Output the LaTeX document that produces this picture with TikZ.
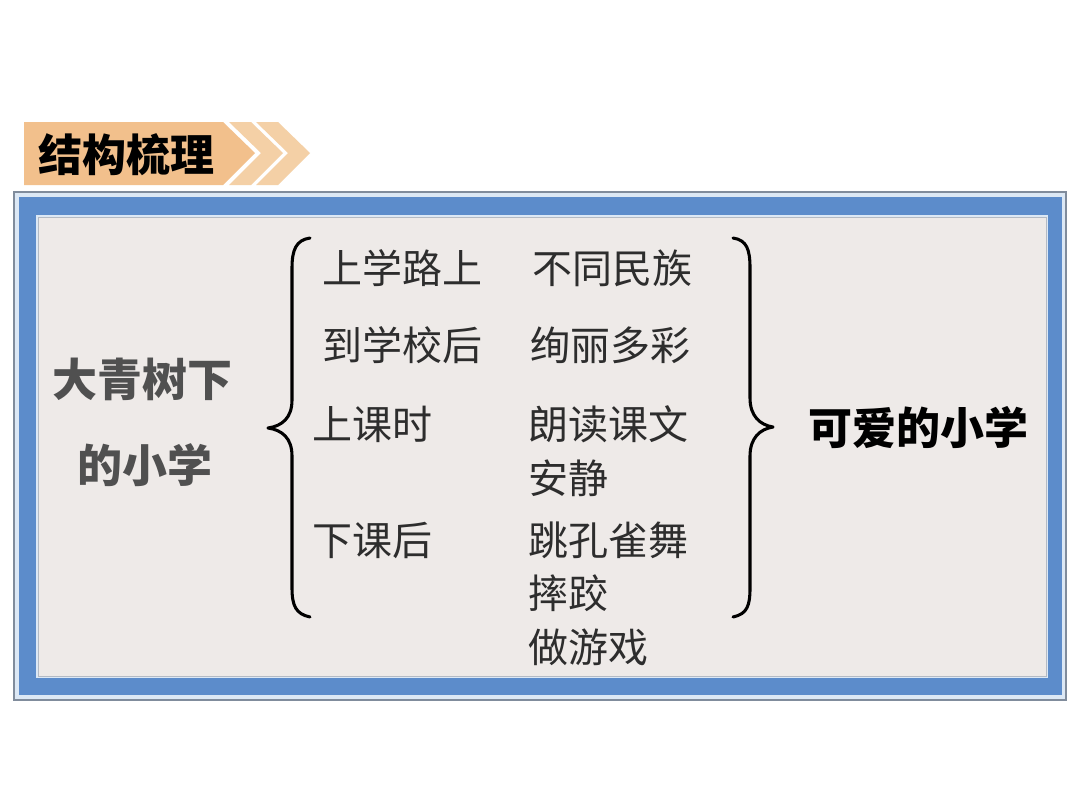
\documentclass[tikz,border=0pt]{standalone}
\usepackage{fontspec}
\usepackage{xcolor}
\newfontfamily\cjk{Noto Sans CJK SC}

\definecolor{bannerorange}{RGB}{242,192,140}
\definecolor{chevronorange}{RGB}{244,208,166}
\definecolor{frameblue}{RGB}{92,140,203}
\definecolor{framegray}{RGB}{128,140,156}
\definecolor{edgeblue}{RGB}{220,232,245}
\definecolor{panelgray}{RGB}{238,234,232}
\definecolor{txtgray}{RGB}{45,45,45}
\definecolor{leadgray}{RGB}{80,80,80}

\tikzset{
  item/.style={anchor=west, inner sep=0pt, text=txtgray,
    font=\cjk\fontsize{30pt}{36pt}\selectfont},
  lead/.style={anchor=west, inner sep=0pt, text=leadgray,
    font=\cjk\bfseries\fontsize{33.75pt}{40pt}\selectfont},
  heading/.style={anchor=west, inner sep=0pt, text=black,
    font=\cjk\bfseries\fontsize{33pt}{40pt}\selectfont},
  bracepath/.style={line width=2.3pt, black, line cap=round, line join=round}
}

\begin{document}
\begin{tikzpicture}[x=0.75pt,y=0.75pt,yscale=-1,xscale=1]
\useasboundingbox (0,0) rectangle (1080,810);
\fill[white] (0,0) rectangle (1080,810);

% Banner
\fill[bannerorange] (24,122) -- (223,122) -- (255,153) -- (223,185) -- (24,185) -- cycle;
\fill[chevronorange] (229,122) -- (251,122) -- (283,153) -- (251,185) -- (229,185) -- (261,153) -- cycle;
\fill[chevronorange] (256,122) -- (278,122) -- (310,153) -- (278,185) -- (256,185) -- (288,153) -- cycle;
\node[heading] (title) at (38,155) {结构梳理};

% Frame
\filldraw[fill=edgeblue, draw=framegray, line width=1.2pt] (14,192) rectangle (1066,700);
\fill[frameblue] (19,197) rectangle (1062,695);
\fill[edgeblue] (36,215) rectangle (1048,678);
\filldraw[fill=panelgray, draw=framegray!60, line width=0.5pt] (38,217) rectangle (1046,676);

% Lead text
\node[lead] (lead1) at (52,379) {大青树下};
\node[lead] (lead2) at (77,465) {的小学};

% Left brace
\draw[bracepath] (310,238) .. controls (296,240) and (292,250) .. (292,268)
  -- (292,400) .. controls (292,418) and (282,426) .. (268,428)
  .. controls (282,430) and (292,438) .. (292,456)
  -- (292,588) .. controls (292,606) and (296,614) .. (310,617);

% Column of times
\node[item] (road) at (322,268) {上学路上};
\node[item] (arrive) at (322,345) {到学校后};
\node[item] (lesson) at (312,424) {上课时};
\node[item] (recess) at (312,540) {下课后};

% Column of scenes
\node[item] (nations) at (532,268) {不同民族};
\node[item] (colours) at (530,345) {绚丽多彩};
\node[item] (reading) at (528,424) {朗读课文};
\node[item] (quiet) at (528,478) {安静};
\node[item] (dance) at (528,540) {跳孔雀舞};
\node[item] (wrestle) at (528,593) {摔跤};
\node[item] (games) at (528,647) {做游戏};

% Right brace
\draw[bracepath] (733,238) .. controls (747,240) and (750,250) .. (750,268)
  -- (750,398) .. controls (750,416) and (760,425) .. (773,427)
  .. controls (760,429) and (750,438) .. (750,456)
  -- (750,588) .. controls (750,606) and (747,614) .. (733,617);

\node[heading] (summary) at (808,428) {可爱的小学};
\end{tikzpicture}
\end{document}
